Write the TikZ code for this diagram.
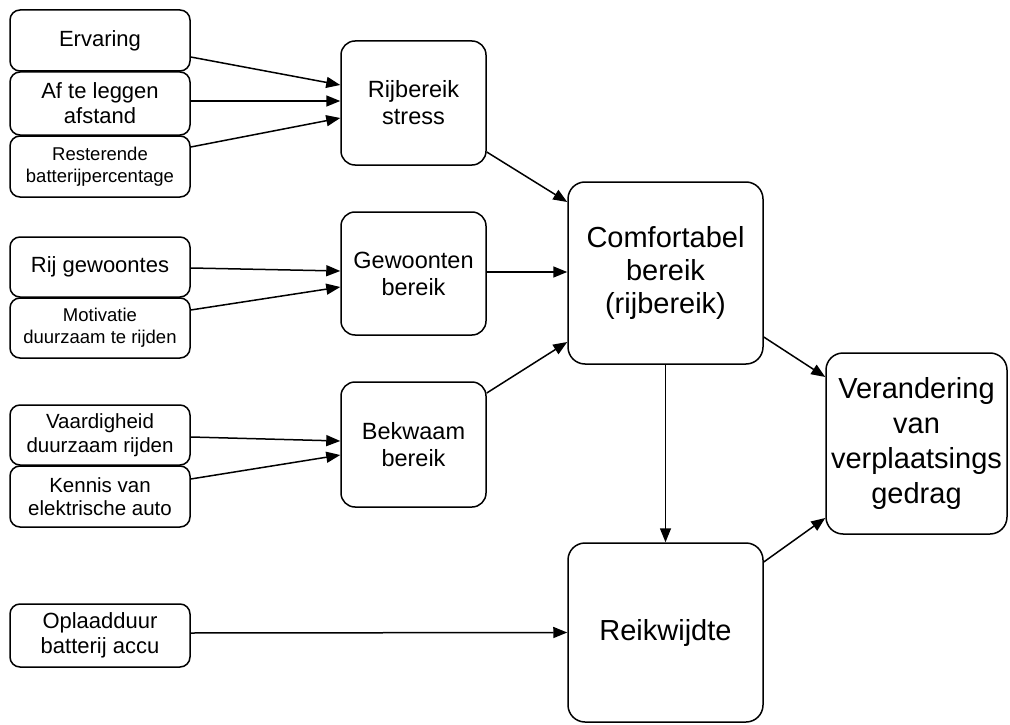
\documentclass[tikz,border=0pt]{standalone}
\usepackage{fontspec}
\setmainfont{Liberation Sans}
\usetikzlibrary{arrows.meta}
\tikzset{
  box/.style={draw=black, fill=white, line width=1.5pt, rectangle, inner sep=0pt, align=center, text=black},
  smallbox/.style={box, rounded corners=10pt, minimum width=180pt},
  midbox/.style={box, rounded corners=14pt, minimum width=145pt},
  bigbox/.style={box, rounded corners=17pt},
  arr/.style={draw=black, line width=1.5pt, -{Triangle[length=14pt,width=11pt]}},
  fA/.style={font=\fontsize{22}{25}\selectfont},
  fB/.style={font=\fontsize{18.5}{22}\selectfont},
  fC/.style={font=\fontsize{20.5}{23.5}\selectfont},
  fM/.style={font=\fontsize{23.5}{27}\selectfont},
  fL/.style={font=\fontsize{29}{33}\selectfont}
}
\begin{document}
\begin{tikzpicture}[x=1pt,y=-1pt]
\useasboundingbox[fill=white] (0,0) rectangle (1010,725);
% left column
\node[smallbox, fA, minimum height=61pt] (erv) at (100,40.5) {Ervaring};
\node[smallbox, fA, minimum height=63pt] (afst) at (100,103.5) {Af te leggen\\afstand};
\node[smallbox, fB, minimum height=61pt] (rest) at (100,166.5) {Resterende\\batterijpercentage};
\node[smallbox, fA, minimum height=60pt] (rij) at (100,267) {Rij gewoontes};
\node[smallbox, fB, minimum height=60pt] (mot) at (100,328) {Motivatie\\duurzaam te rijden};
\node[smallbox, fC, minimum height=60pt] (vaar) at (100,435) {Vaardigheid\\duurzaam rijden};
\node[smallbox, fC, minimum height=61pt] (ken) at (100,496.5) {Kennis van\\elektrische auto};
\node[smallbox, fA, minimum height=63pt] (opl) at (100,635.5) {Oplaadduur\\batterij accu};
% middle column
\node[midbox, fM, minimum height=124pt] (stress) at (413.5,103) {Rijbereik\\stress};
\node[midbox, fM, minimum height=123pt] (gew) at (413.5,273.5) {Gewoonten\\bereik};
\node[midbox, fM, minimum height=125pt] (bekw) at (413.5,444.5) {Bekwaam\\bereik};
% big boxes
\node[bigbox, fL, minimum width=195pt, minimum height=182pt] (comf) at (665.5,273) {Comfortabel\\bereik\\(rijbereik)};
\node[bigbox, fL, minimum width=195pt, minimum height=179pt] (reik) at (665.5,632.5) {Reikwijdte};
\node[bigbox, fL, minimum width=181pt, minimum height=181pt, font=\fontsize{29}{35}\selectfont] (ver) at (916.5,443.5) {Verandering\\van\\verplaatsings\\gedrag};
% connectors
\draw[arr] ([yshift=-16.5pt]erv.east) -- ([yshift=18pt]stress.west);
\draw[arr] ([yshift=2.5pt]afst.east) -- ([yshift=2pt]stress.west);
\draw[arr] ([yshift=19.5pt]rest.east) -- ([yshift=-15pt]stress.west);
\draw[arr] ([yshift=-1pt]rij.east) -- ([yshift=2.5pt]gew.west);
\draw[arr] ([yshift=18pt]mot.east) -- ([yshift=-13.5pt]gew.west);
\draw[arr] ([yshift=-2pt]vaar.east) -- ([yshift=3.5pt]bekw.west);
\draw[arr] ([yshift=17.5pt]ken.east) -- ([yshift=-10.5pt]bekw.west);
\draw[arr] ([yshift=-49pt]stress.east) -- ([yshift=71pt]comf.west);
\draw[arr] ([yshift=1.5pt]gew.east) -- ([yshift=1pt]comf.west);
\draw[arr] ([yshift=51.5pt]bekw.east) -- ([yshift=-69pt]comf.west);
\draw[arr] ([yshift=-64pt]comf.east) -- ([yshift=66.5pt]ver.west);
\draw[arr] (comf.south) -- (reik.north);
\draw[arr] ([yshift=2.5pt]opl.east) -- ([yshift=0pt]reik.west);
\draw[arr] ([yshift=70.5pt]reik.east) -- ([yshift=-74.5pt]ver.west);
\end{tikzpicture}
\end{document}
